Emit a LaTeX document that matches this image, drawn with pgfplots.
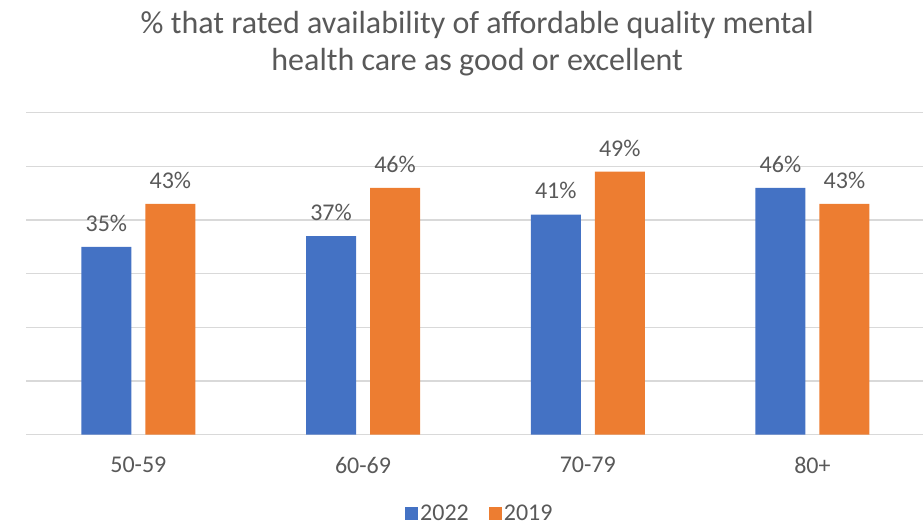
\documentclass[border=0pt]{standalone}
\usepackage{pgfplots}
\pgfplotsset{compat=1.18}
\usepackage{fontspec}
\setmainfont{Carlito}
\definecolor{cblue}{HTML}{4472C4}
\definecolor{corange}{HTML}{ED7D31}
\definecolor{gridc}{HTML}{D9D9D9}
\definecolor{txt}{HTML}{595959}
\begin{document}
\begin{tikzpicture}[x=1bp,y=1bp]
\path[use as bounding box] (0,0) rectangle (923,526);
\begin{axis}[
  at={(26bp,91.3bp)}, anchor=south west,
  width=897bp, height=322bp, scale only axis,
  xmin=-0.5, xmax=3.492, ymin=0, ymax=60,
  ybar, bar width=50bp,
  /pgf/number format/assume math mode=true,
  axis line style={draw=none},
  major tick length=0pt,
  ytick={0,10,...,60}, yticklabels={},
  ymajorgrids, grid style={gridc, line width=1.3bp},
  xtick={0,1,2,3}, xticklabels={50-59,60-69,70-79,80+},
  xticklabel style={font=\fontsize{24bp}{28bp}\selectfont, text=txt, yshift=-19bp},
  nodes near coords={\pgfmathprintnumber{\pgfplotspointmeta}\%},
  nodes near coords style={font=\fontsize{24bp}{28bp}\selectfont, text=txt, anchor=south, yshift=12bp},
  legend columns=2,
  legend style={draw=none, fill=none, at={(0.506,-0.245)}, anchor=center, font=\fontsize{24bp}{26bp}\selectfont, text=txt,
    /tikz/every even column/.append style={column sep=18bp}},
  legend image code/.code={\fill[#1] (0bp,-6bp) rectangle (13bp,7bp);},
  clip=false,
]
\addplot[fill=cblue, draw=none, bar shift=-32bp] coordinates {(0,35) (1,37) (2,41) (3,46)};
\addplot[fill=corange, draw=none, bar shift=32bp] coordinates {(0,43) (1,46) (2,49) (3,43)};
\legend{2022,2019}
\node[align=center, font=\fontsize{32bp}{37bp}\selectfont, text=txt] at (axis description cs:0.503,1.2134)
  {\% that rated availability of affordable quality mental\\health care as good or excellent};
\end{axis}
\end{tikzpicture}
\end{document}
